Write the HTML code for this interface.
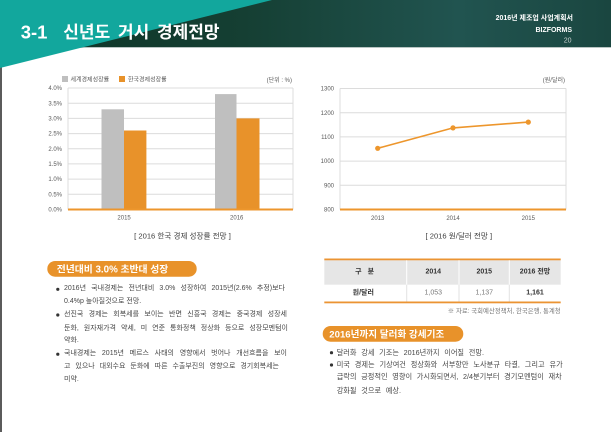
<!DOCTYPE html>
<html><head><meta charset="utf-8">
<style>
*{margin:0;padding:0;box-sizing:border-box}
body{width:611px;height:432px;overflow:hidden;background:#fff;position:relative;font-family:"Liberation Sans","Noto Sans CJK KR",sans-serif}
svg{position:absolute;left:0;top:0}
.ln{position:absolute;font-size:7px;line-height:10px;height:10px;color:#474747;white-space:normal}
.r{font-size:7.2px}
.j{text-align:justify;text-align-last:justify}
.ws{word-spacing:2.7px}
</style></head><body>
<svg width="611" height="432" viewBox="0 0 611 432" xmlns="http://www.w3.org/2000/svg" font-family="Liberation Sans, Noto Sans CJK KR, sans-serif">
<defs>
<linearGradient id="band" x1="0" y1="0" x2="1" y2="0">
<stop offset="0" stop-color="#0d3426"/>
<stop offset="0.4" stop-color="#153f33"/>
<stop offset="0.75" stop-color="#215450"/>
<stop offset="1" stop-color="#1a4640"/>
</linearGradient>
</defs>
<!-- header -->
<rect x="0" y="0" width="611" height="47" fill="url(#band)"/>
<rect x="0" y="47" width="611" height="1" fill="#b9c5c3"/>
<rect x="0" y="47" width="2" height="385" fill="#5b5b5b"/>
<polygon points="0,0 272,0 0,68" fill="#12a79d"/>
<text x="20.7" y="38.3" font-size="18.5" font-weight="bold" fill="#fff">3-1</text>
<text x="63.3" y="38" font-size="17" font-weight="bold" fill="#fff" word-spacing="3">신년도 거시 경제전망</text>
<text x="573" y="19.8" font-size="7" font-weight="bold" fill="#fff" text-anchor="end">2016년 제조업 사업계획서</text>
<text x="572" y="31.8" font-size="7" font-weight="bold" fill="#fff" text-anchor="end">BIZFORMS</text>
<text x="571.5" y="42.5" font-size="7" fill="#c8d0ce" text-anchor="end">20</text>

<!-- chart 1 -->
<rect x="62" y="76" width="6" height="6" fill="#bfbfbf"/>
<text x="70.5" y="81.3" font-size="6" fill="#595959">세계경제성장률</text>
<rect x="119" y="76" width="6" height="6" fill="#e8922a"/>
<text x="128" y="81.3" font-size="6" fill="#595959">한국경제성장률</text>
<text x="292" y="82" font-size="6" fill="#595959" text-anchor="end">(단위 : %)</text>
<g stroke="#dcdcdc" stroke-width="1">
<line x1="68" y1="88" x2="293" y2="88"/>
<line x1="68" y1="103.2" x2="293" y2="103.2"/>
<line x1="68" y1="118.4" x2="293" y2="118.4"/>
<line x1="68" y1="133.6" x2="293" y2="133.6"/>
<line x1="68" y1="148.8" x2="293" y2="148.8"/>
<line x1="68" y1="163.9" x2="293" y2="163.9"/>
<line x1="68" y1="179.1" x2="293" y2="179.1"/>
<line x1="68" y1="194.3" x2="293" y2="194.3"/>
<line x1="68" y1="88" x2="68" y2="209.5"/>
<line x1="293" y1="88" x2="293" y2="209.5"/>
</g>
<g font-size="6" fill="#595959" text-anchor="end">
<text x="62" y="90.1">4.0%</text>
<text x="62" y="105.3">3.5%</text>
<text x="62" y="120.5">3.0%</text>
<text x="62" y="135.7">2.5%</text>
<text x="62" y="150.9">2.0%</text>
<text x="62" y="166">1.5%</text>
<text x="62" y="181.2">1.0%</text>
<text x="62" y="196.4">0.5%</text>
<text x="62" y="211.6">0.0%</text>
</g>
<rect x="101.5" y="109.3" width="22.5" height="100.2" fill="#bfbfbf"/>
<rect x="124" y="130.5" width="22.4" height="79" fill="#e8922a"/>
<rect x="215" y="94.1" width="21.5" height="115.4" fill="#bfbfbf"/>
<rect x="236.5" y="118.4" width="23" height="91.1" fill="#e8922a"/>
<line x1="68" y1="209.5" x2="293" y2="209.5" stroke="#ed962c" stroke-width="2"/>
<g font-size="6" fill="#595959" text-anchor="middle">
<text x="124.1" y="219.7">2015</text>
<text x="236.7" y="219.7">2016</text>
</g>
<text x="182.5" y="238.7" font-size="7.6" fill="#404040" text-anchor="middle">[ 2016 한국 경제 성장률 전망 ]</text>

<!-- chart 2 -->
<text x="565" y="82" font-size="6" fill="#595959" text-anchor="end">(원/달러)</text>
<g stroke="#dcdcdc" stroke-width="1">
<line x1="340" y1="88.5" x2="566" y2="88.5"/>
<line x1="340" y1="112.7" x2="566" y2="112.7"/>
<line x1="340" y1="136.9" x2="566" y2="136.9"/>
<line x1="340" y1="161.1" x2="566" y2="161.1"/>
<line x1="340" y1="185.3" x2="566" y2="185.3"/>
<line x1="340" y1="88.5" x2="340" y2="209.5"/>
<line x1="566" y1="88.5" x2="566" y2="209.5"/>
</g>
<g font-size="6" fill="#595959" text-anchor="end">
<text x="334" y="90.6">1300</text>
<text x="334" y="114.8">1200</text>
<text x="334" y="139">1100</text>
<text x="334" y="163.2">1000</text>
<text x="334" y="187.4">900</text>
<text x="334" y="211.6">800</text>
</g>
<line x1="340" y1="209.5" x2="566" y2="209.5" stroke="#ed962c" stroke-width="2"/>
<polyline points="377.7,148.3 453,127.9 528.3,122.1" fill="none" stroke="#ed962c" stroke-width="1.6"/>
<circle cx="377.7" cy="148.3" r="2.6" fill="#ed962c"/>
<circle cx="453" cy="127.9" r="2.6" fill="#ed962c"/>
<circle cx="528.3" cy="122.1" r="2.6" fill="#ed962c"/>
<g font-size="6" fill="#595959" text-anchor="middle">
<text x="377.7" y="219.8">2013</text>
<text x="453" y="219.8">2014</text>
<text x="528.3" y="219.8">2015</text>
</g>
<text x="458.8" y="238.7" font-size="7.6" fill="#404040" text-anchor="middle">[ 2016 원/달러 전망 ]</text>

<!-- left pill -->
<rect x="47.3" y="261" width="149.4" height="15.7" rx="7.85" fill="#e8922a"/>
<text x="56.7" y="272.3" font-size="9.8" font-weight="bold" fill="#fff">전년대비 3.0% 초반대 성장</text>
<circle cx="57.8" cy="289.3" r="1.6" fill="#333"/>
<circle cx="57.8" cy="315" r="1.6" fill="#333"/>
<circle cx="57.8" cy="354.2" r="1.6" fill="#333"/>

<!-- table -->
<rect x="324.3" y="260.2" width="236.4" height="24.5" fill="#e6e6e6"/>
<rect x="324.3" y="258.5" width="236.4" height="1.8" fill="#eb9433"/>
<g fill="#fff">
<rect x="406.2" y="260.3" width="1" height="24.4"/>
<rect x="458.5" y="260.3" width="1" height="24.4"/>
<rect x="508.8" y="260.3" width="1" height="24.4"/>
</g>
<g fill="#e2e2e2">
<rect x="406.2" y="284.7" width="1" height="16.8"/>
<rect x="458.5" y="284.7" width="1" height="16.8"/>
<rect x="508.8" y="284.7" width="1" height="16.8"/>
</g>
<rect x="324.3" y="301.5" width="236.4" height="1.8" fill="#eb9433"/>
<g font-size="7" font-weight="bold" fill="#333" text-anchor="middle">
<text x="358.3" y="273.3">구</text>
<text x="370.8" y="273.3">분</text>
<text x="433.3" y="273.3">2014</text>
<text x="484.3" y="273.3">2015</text>
<text x="535" y="273.3">2016 전망</text>
<text x="363.3" y="294.3">원/달러</text>
<text x="535" y="294.3">1,161</text>
</g>
<g font-size="7" fill="#7a7a7a" text-anchor="middle">
<text x="433.3" y="294.3">1,053</text>
<text x="484.3" y="294.3">1,137</text>
</g>
<text x="560.7" y="312.9" font-size="6.4" fill="#777" text-anchor="end">※ 자료: 국회예산정책처, 한국은행, 통계청</text>

<!-- right pill -->
<rect x="322.7" y="326" width="140.6" height="15.7" rx="7.85" fill="#e8922a"/>
<text x="329.3" y="337.4" font-size="9.6" font-weight="bold" fill="#fff">2016년까지 달러화 강세기조</text>
<circle cx="331.5" cy="352.7" r="1.6" fill="#333"/>
<circle cx="331.5" cy="365" r="1.6" fill="#333"/>
</svg>

<!-- left bullet text -->
<div class="ln j" style="left:64px;top:284.3px;width:221px">2016년 국내경제는 전년대비 3.0% 성장하여 2015년(2.6% 추정)보다</div>
<div class="ln" style="left:64px;top:296.7px">0.4%p 높아질것으로 전망.</div>
<div class="ln j" style="left:64px;top:310px;width:223px">선진국 경제는 회복세를 보이는 반면 신흥국 경제는 중국경제 성장세</div>
<div class="ln j" style="left:64px;top:323.8px;width:224px">둔화, 원자재가격 약세, 미 연준 통화정책 정상화 등으로 성장모멘텀이</div>
<div class="ln" style="left:64px;top:335.5px">약화.</div>
<div class="ln j" style="left:64px;top:349.2px;width:223px">국내경제는 2015년 메르스 사태의 영향에서 벗어나 개선흐름을 보이</div>
<div class="ln j" style="left:64px;top:362.3px;width:215px">고 있으나 대외수요 둔화에 따른 수출부진의 영향으로 경기회복세는</div>
<div class="ln" style="left:64px;top:375.2px">미약.</div>

<!-- right bullet text -->
<div class="ln r ws" style="left:336.7px;top:347.7px">달러화 강세 기조는 2016년까지 이어질 전망.</div>
<div class="ln r j" style="left:336.7px;top:360px;width:226px">미국 경제는 기상여건 정상화와 서부항만 노사분규 타결, 그리고 유가</div>
<div class="ln r j" style="left:336.7px;top:372.3px;width:225px">급락의 긍정적인 영향이 가시화되면서, 2/4분기부터 경기모멘텀이 재차</div>
<div class="ln r ws" style="left:336.7px;top:385.7px">강화될 것으로 예상.</div>
</body></html>
